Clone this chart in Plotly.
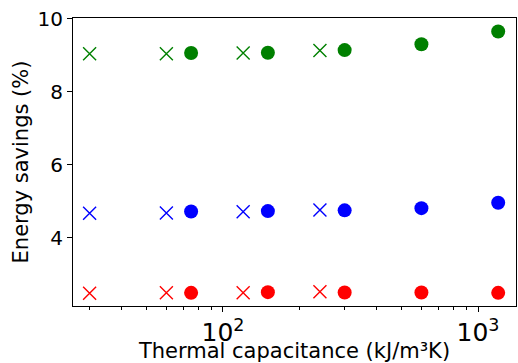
import plotly.graph_objects as go

# capacitance values (kJ/m3K)
cap_cross = [30, 60, 120, 240]
cap_circle = [75, 150, 300, 600, 1200]

# energy savings (%)
green_cross = [9.04, 9.04, 9.06, 9.13]
green_circle = [9.06, 9.07, 9.14, 9.30, 9.65]
blue_cross = [4.67, 4.68, 4.71, 4.76]
blue_circle = [4.72, 4.73, 4.75, 4.81, 4.96]
red_cross = [2.48, 2.49, 2.49, 2.52]
red_circle = [2.49, 2.51, 2.50, 2.50, 2.49]

fig = go.Figure()

for ys, col in [(green_cross, 'green'), (blue_cross, 'blue'), (red_cross, 'red')]:
    fig.add_trace(go.Scatter(
        x=cap_cross, y=ys, mode='markers',
        marker=dict(symbol='x-thin', size=13, line=dict(color=col, width=1.4)),
        showlegend=False))

for ys, col in [(green_circle, 'green'), (blue_circle, 'blue'), (red_circle, 'red')]:
    fig.add_trace(go.Scatter(
        x=cap_circle, y=ys, mode='markers',
        marker=dict(symbol='circle', size=14, color=col, line=dict(width=0)),
        showlegend=False))

axis_common = dict(showline=True, linecolor='black', linewidth=1, mirror=True,
                   ticks='outside', ticklen=5, tickcolor='black', showgrid=False,
                   zeroline=False, tickfont=dict(size=20, color='black'),
                   ticklabeloverflow='allow', automargin=False)

fig.update_layout(
    width=518, height=363,
    margin=dict(l=73, r=2, t=18, b=57),
    paper_bgcolor='white', plot_bgcolor='white',
    font=dict(family='DejaVu Sans', color='black'),
    xaxis=dict(type='log', range=[1.412, 3.149], dtick=1, exponentformat='power',
               title=dict(text='Thermal capacitance (kJ/m³K)', font=dict(size=21), standoff=5),
               minor=dict(ticks='outside', ticklen=3, tickcolor='black', dtick='D1', showgrid=False),
               **axis_common),
    yaxis=dict(range=[2.13, 10.02], tickvals=[4, 6, 8, 10],
               title=dict(text='Energy savings (%)', font=dict(size=21), standoff=3),
               **axis_common),
)

# drop the default page margin so the figure fills the window exactly
fig.write_html("out.html", config={'displayModeBar': False},
               post_script="document.body.style.margin='0';")
